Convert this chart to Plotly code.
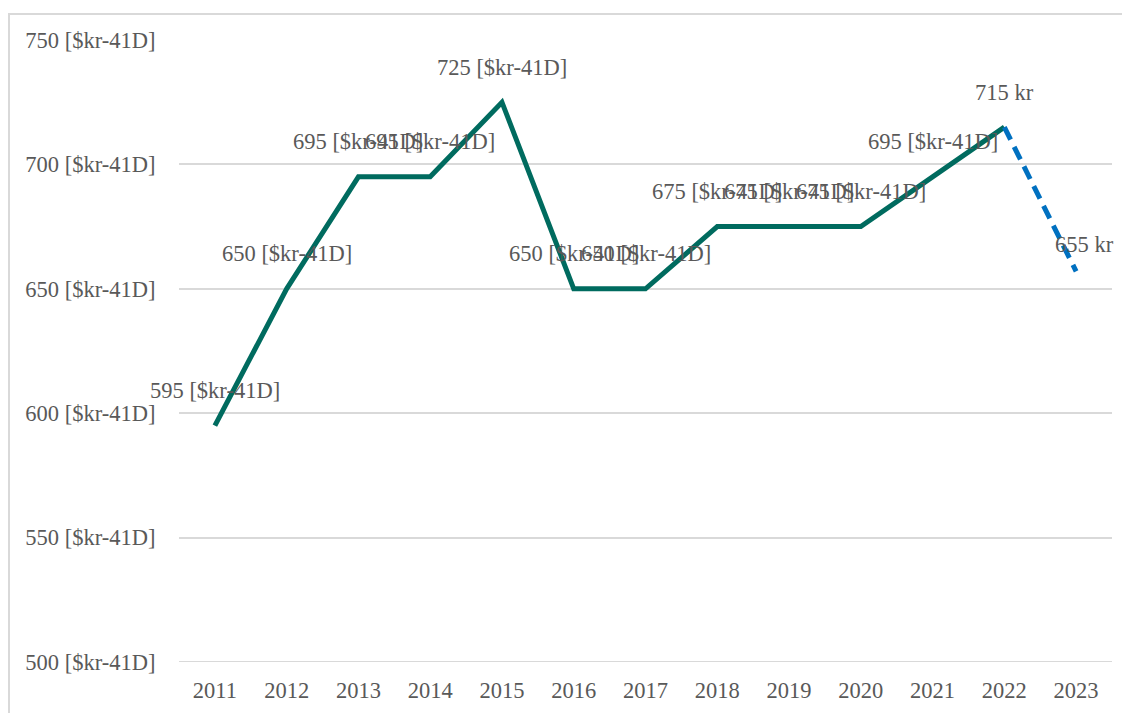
import plotly.graph_objects as go

years = [2011, 2012, 2013, 2014, 2015, 2016, 2017, 2018, 2019, 2020, 2021, 2022, 2023]
actual = [595, 650, 695, 695, 725, 650, 650, 675, 675, 675, 695, 715]
forecast_years = [2022, 2023]
forecast = [715, 657]
actual_labels = [f"{v} [$kr-41D]" for v in actual]
forecast_labels = ["715 kr", "655 kr"]
y_ticks = [500, 550, 600, 650, 700, 750]
y_tick_text = [f"{v} [$kr-41D]" for v in y_ticks]

FONT = "Liberation Serif"
GREY = "#595959"
GRID = "#D9D9D9"
FS = 22.5

fig = go.Figure()
fig.add_trace(go.Scatter(x=years[:len(actual)], y=actual, mode="lines",
                         line=dict(color="#006B5F", width=5), hoverinfo="skip"))
fig.add_trace(go.Scatter(x=forecast_years, y=forecast, mode="lines",
                         line=dict(color="#0070C0", width=5, dash="14px,8px"), hoverinfo="skip"))

ann = []
for x, y, t in zip(years[:len(actual)], actual, actual_labels):
    if x == forecast_years[0]:
        continue
    ann.append(dict(x=x, y=y, text=t, showarrow=False, yshift=35,
                    font=dict(family=FONT, size=FS, color=GREY)))
ann.append(dict(x=forecast_years[0], y=forecast[0], text=forecast_labels[0], showarrow=False,
                yshift=35, font=dict(family=FONT, size=FS, color=GREY)))
ann.append(dict(x=forecast_years[1], y=forecast[1], text=forecast_labels[1], showarrow=False,
                yshift=27, xshift=8, font=dict(family=FONT, size=FS, color=GREY)))

# page body has an 8px offset at left/top
OFF = 8
L, R, T, B = 179 - OFF, 18, 40 - OFF, 51
W, H = 1130 - OFF, 713 - OFF
pw, ph = W - L - R, H - T - B

fig.update_layout(
    width=W, height=H,
    margin=dict(l=L, r=R, t=T, b=B, autoexpand=False),
    paper_bgcolor="white", plot_bgcolor="white",
    showlegend=False,
    font=dict(family=FONT, size=FS, color=GREY),
    annotations=ann,
    shapes=[
        dict(type="rect", xref="paper", yref="paper",
             x0=(1 - L) / pw, x1=1.2, y0=-0.3, y1=(H - B - 6) / ph,
             line=dict(color=GRID, width=2), layer="below"),
        dict(type="line", xref="paper", yref="y", x0=0, x1=1,
             y0=y_ticks[0], y1=y_ticks[0], line=dict(color=GRID, width=2), layer="below"),
    ],
    xaxis=dict(range=[2010.5, 2023.5], tickvals=years, ticktext=[str(y) for y in years],
               showgrid=False, zeroline=False, showline=False, automargin=False,
               ticks="outside", ticklen=8, tickcolor="rgba(0,0,0,0)",
               tickfont=dict(family=FONT, size=FS, color=GREY)),
    yaxis=dict(range=[500, 750], tickvals=y_ticks, ticktext=y_tick_text,
               showgrid=True, gridcolor=GRID, gridwidth=2, zeroline=False,
               showline=False, automargin=False, ticks="outside", ticklen=18,
               tickcolor="rgba(0,0,0,0)",
               tickfont=dict(family=FONT, size=FS, color=GREY)),
)
fig.write_html("out.html")
